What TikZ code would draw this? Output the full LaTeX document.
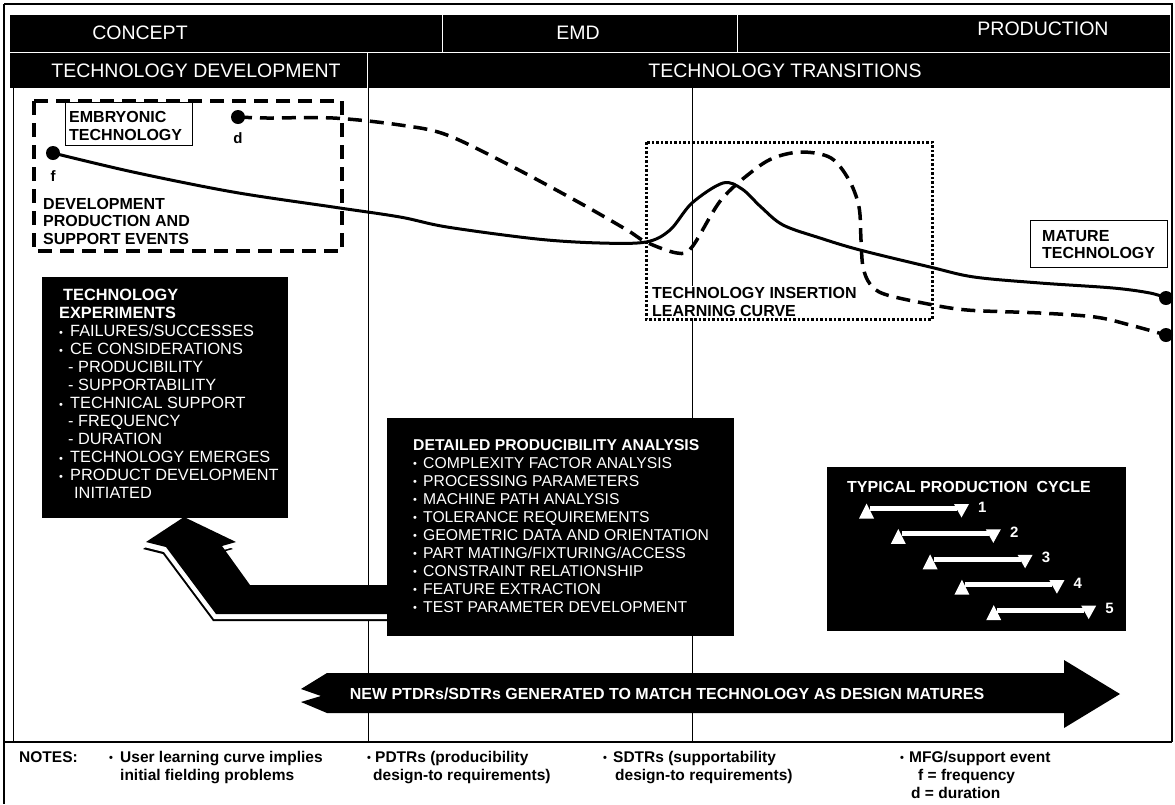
\documentclass[tikz,border=0pt]{standalone}
\usepackage{fontspec}
\setmainfont{Liberation Sans}
\usetikzlibrary{calc}
\newcommand{\fs}[2]{\fontsize{#1}{#2}\selectfont}
\newcommand{\bulw}[1]{\makebox[#1][l]{\raisebox{0.5pt}{\fs{11}{11}\textbullet}}}
\begin{document}
\begin{tikzpicture}[x=1pt,y=-1pt,
  hdr/.style={text=white, font=\fs{19.5}{22}, inner sep=0pt},
  lbl/.style={font=\bfseries\fs{16}{18}, inner sep=0pt, align=left},
  wlist/.style={text=white, font=\fs{16.3}{18}, inner sep=0pt, align=left, anchor=north west},
  notes/.style={font=\bfseries\fs{15.5}{18}, inner sep=0pt, align=left, anchor=north west},
  blackbox/.style={fill=black, draw=black, inner sep=0pt, anchor=north west},
  dashbox/.style={line width=3.5pt, dash pattern=on 14pt off 8pt},
  curve/.style={line width=3pt, line join=round, line cap=round},
  dashcurve/.style={line width=3.5pt, dash pattern=on 14pt off 8pt},
  dotbox/.style={line width=3pt, dash pattern=on 2.5pt off 2pt},
  frame/.style={line width=1.2pt},
  bigarrow/.style={insert path={(184,517) -- (236,542) -- (222,546) -- (250,585) -- (400,585) -- (400,614) -- (216,614) -- (166,547) -- (146,542) -- cycle}},
]
\useasboundingbox (0,0) rectangle (1175,804);
\fill[white] (0,0) rectangle (1175,804);

% frame
\draw[frame] (4,4) -- (1172,4) -- (1172,742);
\draw[frame] (4,4) -- (4,804);
\draw[line width=2.5pt] (4,742) -- (1172,742);
\draw[line width=0.8pt] (13,88) -- (13,742);
\draw[line width=1pt] (368,88) -- (368,742);
\draw[line width=1pt] (692,88) -- (692,742);

% header
\fill[black] (10,15) rectangle (1170,88);
\draw[white, line width=1pt] (10,52) -- (1170,52);
\draw[white, line width=0.8pt] (442,15) -- (442,52);
\draw[white, line width=0.8pt] (737,15) -- (737,52);
\draw[white, line width=0.8pt] (367,52) -- (367,88);
\node[hdr] (concept) at (140,33) {CONCEPT};
\node[hdr] (emd) at (578,33) {EMD};
\node[hdr] (prod) at (1043,29) {PRODUCTION};
\node[hdr] (techdev) at (196,71) {TECHNOLOGY DEVELOPMENT};
\node[hdr] (techtr) at (785,71) {TECHNOLOGY TRANSITIONS};

% development box
\draw[dashbox] (34,101) rectangle (342,251);
\draw[line width=1pt] (65,102) rectangle (192,145);
\node[lbl, anchor=west] (emb) at (69,126) {EMBRYONIC\\TECHNOLOGY};
\node[lbl, anchor=west, font=\bfseries\fs{16}{17.5}] (dev) at (43,221) {DEVELOPMENT\\PRODUCTION AND\\SUPPORT EVENTS};

% dotted insertion box
\draw[dotbox] (646,142) rectangle (932,319);

% curves
\coordinate (f) at (53,153);
\coordinate (d) at (238,117);
\coordinate (fend) at (1166,298);
\coordinate (dend) at (1166,335);
\draw[curve] plot[smooth, tension=0.55] coordinates {(53,153) (133,172) (233,192) (333,207) (400,217) (447,227) (537,239) (600,243) (646,242) (670,230) (692,203) (723,183) (742,189) (761,207) (783,225) (820,238) (860,250) (930,267) (974,277) (1040,283) (1113,288) (1150,293) (1166,298)};
\draw[dashcurve] plot[smooth, tension=0.55] coordinates {(238,117) (267,118) (333,118) (400,125) (447,135) (513,167) (580,203) (627,230) (646,242) (677,253) (692,247) (721,200) (754,170) (776,157) (803,152) (831,158) (849,180) (859,207) (861,240) (863,267) (870,284) (884,294) (923,303) (967,310) (1040,313) (1095,317) (1130,325) (1166,335)};
\fill (f) circle[radius=7pt];
\fill (d) circle[radius=7pt];
\fill (fend) circle[radius=7pt];
\fill (dend) circle[radius=7pt];
\node[lbl, font=\bfseries\fs{15}{17}] (flab) at (53,176) {f};
\node[lbl, font=\bfseries\fs{15}{17}] (dlab) at (238,138) {d};

\node[lbl, anchor=west, fill=white, inner sep=1pt] (insert) at (651,302) {TECHNOLOGY INSERTION\\LEARNING CURVE};

% mature box
\draw[line width=1pt] (1030,220) rectangle (1167,267);
\node[lbl, anchor=west, font=\bfseries\fs{16}{17}] (mature) at (1042,245) {MATURE\\TECHNOLOGY};

% bent arrow with shadow
\fill[black, shift={(-3,7)}, bigarrow];
\fill[white, shift={(-2,5)}, bigarrow];
\fill[black, bigarrow];

% technology experiments
\node[blackbox, minimum width=245pt, minimum height=240pt] (expbox) at (42,277) {};
\node[wlist] (exptext) at (59,289) {{\bfseries\hspace*{4pt}TECHNOLOGY}\\{\bfseries EXPERIMENTS}\\\bulw{11pt}FAILURES/SUCCESSES\\\bulw{11pt}CE CONSIDERATIONS\\\hspace*{9pt}- PRODUCIBILITY\\\hspace*{9pt}- SUPPORTABILITY\\\bulw{11pt}TECHNICAL SUPPORT\\\hspace*{9pt}- FREQUENCY\\\hspace*{9pt}- DURATION\\\bulw{11pt}TECHNOLOGY EMERGES\\\bulw{11pt}PRODUCT DEVELOPMENT\\\hspace*{15pt}INITIATED};

% detailed producibility analysis
\node[blackbox, minimum width=346pt, minimum height=217pt] (detbox) at (387,418) {};
\node[wlist, font=\fs{15.7}{18}] (dettext) at (413,439) {{\bfseries DETAILED PRODUCIBILITY ANALYSIS}\\\bulw{10pt}COMPLEXITY FACTOR ANALYSIS\\\bulw{10pt}PROCESSING PARAMETERS\\\bulw{10pt}MACHINE PATH ANALYSIS\\\bulw{10pt}TOLERANCE REQUIREMENTS\\\bulw{10pt}GEOMETRIC DATA AND ORIENTATION\\\bulw{10pt}PART MATING/FIXTURING/ACCESS\\\bulw{10pt}CONSTRAINT RELATIONSHIP\\\bulw{10pt}FEATURE EXTRACTION\\\bulw{10pt}TEST PARAMETER DEVELOPMENT};

% typical production cycle
\node[blackbox, minimum width=298pt, minimum height=163pt] (cycbox) at (827,467) {};
\node[lbl, text=white, anchor=west] (cyctitle) at (847,487) {TYPICAL PRODUCTION\ \ CYCLE};
\foreach \i/\n in {0/1,1/2,2/3,3/4,4/5} {
  \begin{scope}[shift={({31.8*\i},{25.4*\i})}]
    \fill[white] (870,506) rectangle (957,511);
    \fill[white] (859,518.5) -- (874,518.5) -- (866.5,503.5) -- cycle;
    \fill[white] (954,504) -- (969,504) -- (961.5,517.5) -- cycle;
  \end{scope}
  \node[lbl, text=white, anchor=west, font=\bfseries\fs{15}{17}] (num\n) at ({978+31.8*\i},{507+25.4*\i}) {\n};
}

% bottom arrow
\fill[black] (301,689) -- (327,673) -- (1064,673) -- (1064,660) -- (1120,694) -- (1064,728) -- (1064,713) -- (327,713) -- (301,702) -- (321,696) -- cycle;
\node[lbl, text=white] (newtxt) at (667,694) {NEW PTDRs/SDTRs GENERATED TO MATCH TECHNOLOGY AS DESIGN MATURES};

% notes
\node[notes] (notes) at (19,751) {NOTES:};
\node[notes] (note1) at (109,751) {\bulw{11pt}User learning curve implies\\\hspace*{11pt}initial fielding problems};
\node[notes] (note2) at (367,751) {\bulw{8pt}PDTRs (producibility\\\hspace*{6pt}design-to requirements)};
\node[notes] (note3) at (603,751) {\bulw{10pt}SDTRs (supportability\\\hspace*{12pt}design-to requirements)};
\node[notes] (note4) at (900,751) {\bulw{9pt}MFG/support event\\\hspace*{18pt}f = frequency\\\hspace*{11pt}d = duration};
\end{tikzpicture}
\end{document}
